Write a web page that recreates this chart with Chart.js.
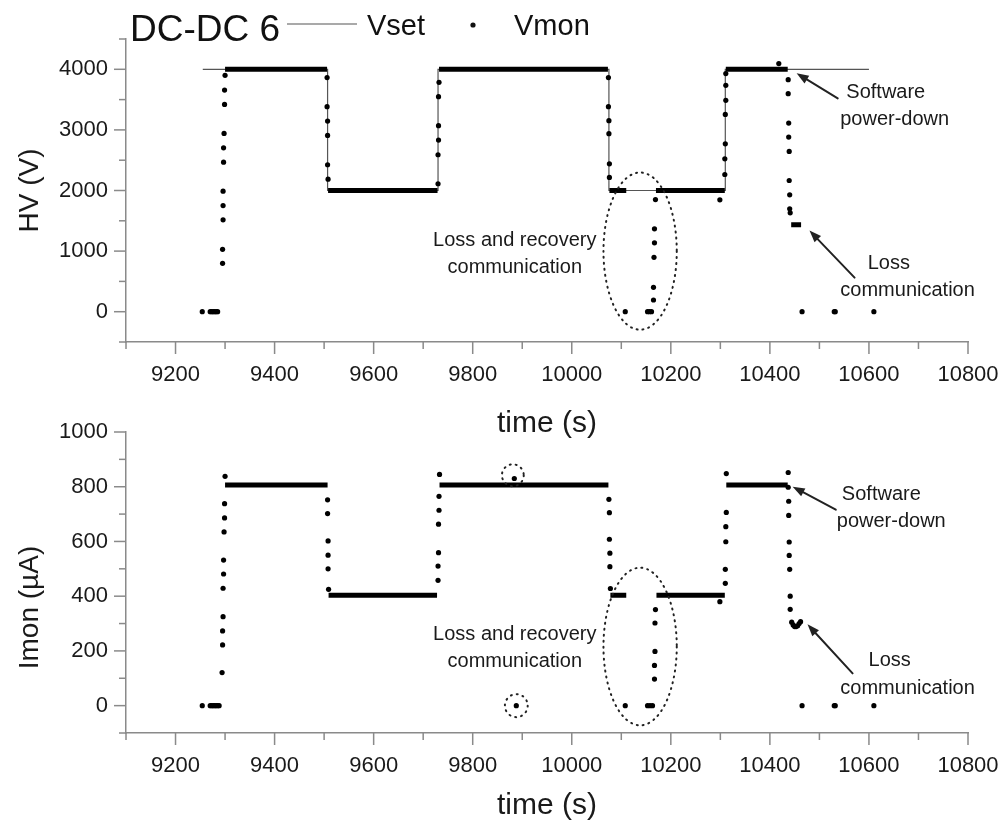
<!DOCTYPE html>
<html>
<head>
<meta charset="utf-8">
<script src="https://cdn.jsdelivr.net/npm/chart.js@4/dist/chart.umd.min.js"></script>
<style>
  html, body { margin: 0; padding: 0; background: #fff; }
  #wrap { position: relative; width: 1006px; height: 832px; }
  .box { position: absolute; left: 0; width: 1006px; }
  #top-box { top: 0; height: 442px; }
  #bottom-box { top: 400px; height: 432px; }
</style>
</head>
<body>
<div id="wrap">
  <div class="box" id="top-box"><canvas id="hv-chart" width="1006" height="442"></canvas></div>
  <div class="box" id="bottom-box"><canvas id="imon-chart" width="1006" height="432"></canvas></div>
</div>
<script>
// ---- data ----
const timeTicks = [9200, 9400, 9600, 9800, 10000, 10200, 10400, 10600, 10800];
const timeMinorTicks = [9100, 9300, 9500, 9700, 9900, 10100, 10300, 10500, 10700];
const hvTicks = [0, 1000, 2000, 3000, 4000];
const hvMinorTicks = [-500, 500, 1500, 2500, 3500, 4500];
const imonTicks = [0, 200, 400, 600, 800, 1000];
const imonMinorTicks = [-100, 100, 300, 500, 700, 900];

// set value, held until the next change
const vsetTime = [9255, 9507, 9730, 10075, 10310, 10600];
const vsetValue = [4000, 2000, 4000, 2000, 4000, 4000];

// dense Vmon readings that merge into a thick bar
const vmonPlateauStart = [9300, 9508, 9732, 10076, 10170, 10311, 10443];
const vmonPlateauEnd = [9506, 9729, 10073, 10110, 10309, 10436, 10463];
const vmonPlateauLevel = [4000, 2000, 4000, 2000, 2000, 4000, 1433];

// single Vmon readings
const vmonTime = [
  9254, 9270, 9273, 9276, 9279, 9282, 9285,
  9295, 9295, 9296, 9296, 9296, 9297, 9297, 9298, 9299, 9299, 9300,
  9506, 9506, 9507, 9507, 9507, 9508,
  9730, 9730, 9731, 9731, 9731, 9732,
  10074, 10074, 10075, 10075, 10076, 10076,
  10108, 10153, 10157, 10161, 10165, 10165, 10166, 10167, 10167, 10169,
  10299,
  10309, 10309, 10310, 10310, 10311, 10311, 10311,
  10418,
  10437, 10437, 10438, 10438, 10439, 10439, 10440, 10440, 10441,
  10465, 10530, 10532, 10610,
];
const vmonValue = [
  0, 0, 0, 0, 0, 0, 0,
  798, 1030, 1516, 1752, 1989, 2468, 2705, 2942, 3421, 3658, 3901,
  3863, 3383, 3145, 2909, 2425, 2187,
  2111, 2590, 2832, 3069, 3549, 3785,
  3863, 3383, 3152, 2937, 2441, 2215,
  0, 0, 0, 0, 193, 402, 898, 1136, 1367, 1851,
  1846,
  2264, 2523, 2771, 3256, 3488, 3736, 3929,
  4094,
  3829, 3598, 3112, 2881, 2645, 2165, 1929, 1697, 1631,
  0, 0, 0, 0,
];

const imonPlateauStart = [9300, 9509, 9733, 10078, 10171, 10312];
const imonPlateauEnd = [9507, 9728, 10074, 10110, 10309, 10436];
const imonPlateauLevel = [806, 403, 806, 403, 403, 806];

const imonTime = [
  9254, 9270, 9273, 9276, 9279, 9282, 9285, 9288,
  9294, 9295, 9295, 9296, 9296, 9297, 9297, 9298, 9299, 9299, 9300,
  9507, 9507, 9508, 9508, 9508, 9509,
  9730, 9730, 9731, 9731, 9732, 9732, 9733,
  9884, 9888,
  10075, 10076, 10076, 10077, 10077, 10078,
  10108, 10153, 10158, 10163, 10167, 10167, 10168, 10168, 10169,
  10299,
  10310, 10310, 10311, 10311, 10312, 10312,
  10437,
  10437, 10438, 10438, 10439, 10439, 10440, 10441, 10441,
  10444, 10447, 10450, 10453, 10456, 10459, 10462,
  10465, 10530, 10532, 10610,
];
const imonValue = [
  0, 0, 0, 0, 0, 0, 0, 0,
  121, 222, 273, 325, 429, 481, 532, 635, 686, 738, 838,
  752, 702, 602, 550, 500, 425,
  458, 510, 559, 663, 714, 765, 845,
  830, 0,
  754, 705, 608, 557, 508, 428,
  0, 0, 0, 0, 97, 147, 198, 302, 351,
  380,
  447, 498, 599, 654, 706, 848,
  852,
  798, 747, 695, 598, 549, 498, 400, 352,
  305, 295, 289, 289, 292, 300, 307,
  0, 0, 0, 0,
];

// ---- look ----
const FONT = "'Liberation Sans', Arial, sans-serif";
const AXIS_COLOR = '#8a8a8a';
const TEXT_COLOR = '#1a1a1a';
Chart.defaults.font.family = FONT;
Chart.defaults.color = TEXT_COLOR;

const toPoints = (xs, ys) => xs.map((t, i) => ({ x: t, y: ys[i] }));

const toSegments = (starts, ends, levels) => {
  const pts = [];
  starts.forEach((s, i) => {
    pts.push({ x: s, y: levels[i] }, { x: ends[i], y: levels[i] }, { x: ends[i], y: null });
  });
  return pts;
};

const plainLabel = (v) => String(v);

// outward major / minor tick marks
const axisTicks = {
  id: 'axisTicks',
  afterDraw(chart, args, opts) {
    const { ctx, chartArea, scales } = chart;
    ctx.save();
    ctx.strokeStyle = AXIS_COLOR;
    ctx.lineWidth = 1.5;
    const mark = (scale, values, len) => values.forEach((v) => {
      const p = scale.getPixelForValue(v);
      ctx.beginPath();
      if (scale.axis === 'x') {
        ctx.moveTo(p, chartArea.bottom);
        ctx.lineTo(p, chartArea.bottom + len);
      } else {
        ctx.moveTo(chartArea.left, p);
        ctx.lineTo(chartArea.left - len, p);
      }
      ctx.stroke();
    });
    mark(scales.x, opts.xMajor, 12);
    mark(scales.x, opts.xMinor, 7);
    mark(scales.y, opts.yMajor, 12);
    mark(scales.y, opts.yMinor, 7);
    ctx.restore();
  },
};

// rotated y title, placed by hand like the original
const sideTitle = {
  id: 'sideTitle',
  afterDraw(chart, args, opts) {
    const { ctx, chartArea } = chart;
    ctx.save();
    ctx.translate(30, (chartArea.top + chartArea.bottom) / 2 + opts.shift);
    ctx.rotate(-Math.PI / 2);
    ctx.font = `28px ${FONT}`;
    ctx.fillStyle = TEXT_COLOR;
    ctx.textAlign = 'center';
    ctx.textBaseline = 'middle';
    ctx.fillText(opts.text, 0, 0);
    ctx.restore();
  },
};

// ellipses, arrows and notes, placed in data units
const notes = {
  id: 'notes',
  afterDatasetsDraw(chart, args, opts) {
    const { ctx, scales: { x, y } } = chart;
    ctx.save();
    ctx.strokeStyle = '#222';
    ctx.fillStyle = '#222';
    (opts.ellipses || []).forEach((e) => {
      const cx = x.getPixelForValue(e.t);
      const cy = y.getPixelForValue(e.v);
      const rx = Math.abs(x.getPixelForValue(e.t + e.dt) - cx);
      const ry = Math.abs(y.getPixelForValue(e.v + e.dv) - cy);
      ctx.beginPath();
      ctx.setLineDash([1, 5]);
      ctx.lineCap = 'round';
      ctx.lineWidth = 2;
      ctx.ellipse(cx, cy, rx, ry, 0, 0, Math.PI * 2);
      ctx.stroke();
    });
    ctx.setLineDash([]);
    (opts.arrows || []).forEach((a) => {
      const x1 = x.getPixelForValue(a.t1);
      const y1 = y.getPixelForValue(a.v1);
      const x2 = x.getPixelForValue(a.t2);
      const y2 = y.getPixelForValue(a.v2);
      const ang = Math.atan2(y2 - y1, x2 - x1);
      const c = Math.cos(ang);
      const s = Math.sin(ang);
      ctx.lineWidth = 2;
      ctx.beginPath();
      ctx.moveTo(x1, y1);
      ctx.lineTo(x2 - 8 * c, y2 - 8 * s);
      ctx.stroke();
      ctx.beginPath();
      ctx.moveTo(x2, y2);
      ctx.lineTo(x2 - 12 * c + 4.5 * s, y2 - 12 * s - 4.5 * c);
      ctx.lineTo(x2 - 12 * c - 4.5 * s, y2 - 12 * s + 4.5 * c);
      ctx.closePath();
      ctx.fill();
    });
    ctx.fillStyle = TEXT_COLOR;
    ctx.font = `20px ${FONT}`;
    ctx.textAlign = 'center';
    ctx.textBaseline = 'middle';
    (opts.labels || []).forEach((l) => {
      ctx.fillText(l.text, x.getPixelForValue(l.t), y.getPixelForValue(l.v));
    });
    ctx.restore();
  },
};

// "DC-DC 6" with the Vset / Vmon key
const header = {
  id: 'header',
  afterDraw(chart) {
    const { ctx } = chart;
    ctx.save();
    ctx.fillStyle = '#111';
    ctx.textBaseline = 'alphabetic';
    ctx.font = `37px ${FONT}`;
    ctx.fillText('DC-DC 6', 130, 41);
    ctx.strokeStyle = '#555';
    ctx.lineWidth = 1.2;
    ctx.beginPath();
    ctx.moveTo(287, 24);
    ctx.lineTo(357, 24);
    ctx.stroke();
    ctx.font = `29px ${FONT}`;
    ctx.fillText('Vset', 367, 35);
    ctx.beginPath();
    ctx.arc(473, 25, 2.6, 0, Math.PI * 2);
    ctx.fill();
    ctx.fillText('Vmon', 514, 35);
    ctx.restore();
  },
};

const makeChart = (id, o) => {
  const datasets = [
    {
      label: o.pointLabel,
      type: 'scatter',
      data: toPoints(o.time, o.value),
      pointRadius: 2.6,
      pointBackgroundColor: '#000',
      pointBorderWidth: 0,
      order: 0,
    },
    {
      label: o.pointLabel + ' plateau',
      type: 'line',
      data: toSegments(o.pStart, o.pEnd, o.pLevel),
      borderColor: '#000',
      borderWidth: 5,
      pointRadius: 0,
      spanGaps: false,
      order: 1,
    },
  ];
  if (o.setTime) {
    datasets.push({
      label: 'Vset',
      type: 'line',
      data: toPoints(o.setTime, o.setValue),
      stepped: 'before',
      borderColor: '#555',
      borderWidth: 1.2,
      pointRadius: 0,
      order: 2,
    });
  }

  return new Chart(document.getElementById(id), {
    type: 'scatter',
    data: { datasets },
    options: {
      responsive: false,
      animation: false,
      layout: { padding: { left: 0, right: 38, top: o.padTop, bottom: 0 } },
      plugins: {
        legend: { display: false },
        tooltip: { enabled: false },
        axisTicks: { xMajor: timeTicks, xMinor: timeMinorTicks, yMajor: o.yTicks, yMinor: o.yMinor },
        sideTitle: { text: o.yTitle, shift: o.yTitleShift },
        notes: o.notes,
      },
      scales: {
        x: {
          type: 'linear',
          min: 9100,
          max: 10800,
          afterBuildTicks: (scale) => { scale.ticks = timeTicks.map((v) => ({ value: v })); },
          afterFit: (scale) => {
            scale.height = o.xHeight;
            scale.paddingLeft = 0;
            scale.paddingRight = 0;
          },
          grid: { display: false, drawTicks: false },
          border: { display: true, color: AXIS_COLOR, width: 1.5 },
          ticks: { font: { size: 22 }, color: TEXT_COLOR, padding: 20, maxRotation: 0, callback: plainLabel },
          title: { display: true, text: 'time (s)', font: { size: 30 }, color: TEXT_COLOR, padding: { top: 0, bottom: o.xTitlePad } },
        },
        y: {
          type: 'linear',
          min: o.yMin,
          max: o.yMax,
          afterBuildTicks: (scale) => { scale.ticks = o.yTicks.map((v) => ({ value: v })); },
          afterFit: (scale) => {
            scale.width = 126;
            scale.paddingTop = 0;
            scale.paddingBottom = 0;
          },
          grid: { display: false, drawTicks: false },
          border: { display: true, color: AXIS_COLOR, width: 1.5 },
          ticks: { font: { size: 22 }, color: TEXT_COLOR, padding: 18, callback: plainLabel },
        },
      },
    },
    plugins: o.header ? [axisTicks, sideTitle, notes, header] : [axisTicks, sideTitle, notes],
  });
};

makeChart('hv-chart', {
  pointLabel: 'Vmon',
  time: vmonTime,
  value: vmonValue,
  pStart: vmonPlateauStart,
  pEnd: vmonPlateauEnd,
  pLevel: vmonPlateauLevel,
  setTime: vsetTime,
  setValue: vsetValue,
  yMin: -500,
  yMax: 4500,
  yTicks: hvTicks,
  yMinor: hvMinorTicks,
  yTitle: 'HV (V)',
  yTitleShift: 0,
  padTop: 39,
  xHeight: 100,
  xTitlePad: 0,
  header: true,
  notes: {
    ellipses: [{ t: 10138, v: 1000, dt: 74, dv: 1297 }],
    arrows: [
      { t1: 10537, v1: 3521, t2: 10454, v2: 3934 },
      { t1: 10571, v1: 562, t2: 10480, v2: 1339 },
    ],
    labels: [
      { text: 'Loss and recovery', t: 9885, v: 1174 },
      { text: 'communication', t: 9885, v: 732 },
      { text: 'Software', t: 10634, v: 3620 },
      { text: 'power-down', t: 10652, v: 3174 },
      { text: 'Loss', t: 10640, v: 793 },
      { text: 'communication', t: 10678, v: 347 },
    ],
  },
});

makeChart('imon-chart', {
  pointLabel: 'Imon',
  time: imonTime,
  value: imonValue,
  pStart: imonPlateauStart,
  pEnd: imonPlateauEnd,
  pLevel: imonPlateauLevel,
  yMin: -100,
  yMax: 1000,
  yTicks: imonTicks,
  yMinor: imonMinorTicks,
  yTitle: 'Imon (\u00b5A)',
  yTitleShift: 25,
  padTop: 32,
  xHeight: 99,
  xTitlePad: 8,
  header: false,
  notes: {
    ellipses: [
      { t: 10138, v: 216, dt: 74, dv: 288 },
      { t: 9881, v: 842, dt: 22, dv: 40 },
      { t: 9888, v: 0, dt: 23, dv: 42 },
    ],
    arrows: [
      { t1: 10533, v1: 716, t2: 10446, v2: 800 },
      { t1: 10567, v1: 118, t2: 10476, v2: 297 },
    ],
    labels: [
      { text: 'Loss and recovery', t: 9885, v: 260 },
      { text: 'communication', t: 9885, v: 161 },
      { text: 'Software', t: 10625, v: 770 },
      { text: 'power-down', t: 10645, v: 672 },
      { text: 'Loss', t: 10642, v: 165 },
      { text: 'communication', t: 10678, v: 63 },
    ],
  },
});
</script>
</body>
</html>
